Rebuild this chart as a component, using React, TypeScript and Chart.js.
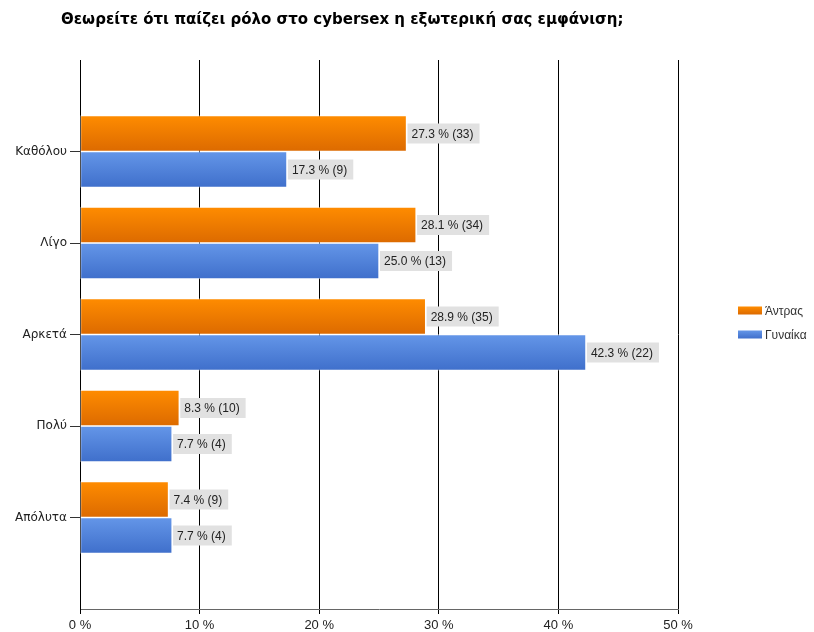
import React, { useEffect, useRef } from "react";
import { Chart, registerables } from "chart.js";

Chart.register(...registerables);

const TITLE = "Θεωρείτε ότι παίζει ρόλο στο cybersex η εξωτερική σας εμφάνιση;";
const categories = ["Καθόλου", "Λίγο", "Αρκετά", "Πολύ", "Απόλυτα"];
const seriesNames = ["Άντρας", "Γυναίκα"];
const menPct = [27.3, 28.1, 28.9, 8.3, 7.4];
const menCount = [33, 34, 35, 10, 9];
const womenPct = [17.3, 25.0, 42.3, 7.7, 7.7];
const womenCount = [9, 13, 22, 4, 4];
const xTicks = [0, 10, 20, 30, 40, 50];

const FONT = "'Liberation Sans', Arial, sans-serif";
const NARROW = "'Liberation Sans Narrow', 'Arial Narrow', 'Liberation Sans', sans-serif";
const WIDE = "'DejaVu Sans', Verdana, sans-serif";
const BAR = 36;

const gradStops = [
  ["#ff8c00", "#dc6a00"],
  ["#6496e8", "#3f6fcb"],
];
const solid = ["#f07d00", "#4f82da"];

export default function App() {
  const ref = useRef<HTMLCanvasElement | null>(null);

  useEffect(() => {
    const canvas = ref.current;
    if (!canvas) return;

    const labels = ["", ...categories, ""];
    const pad = (a: number[]) => [null, ...a, null];
    const counts = [menCount, womenCount];

    const bg = (ds: number) => (ctx: any) => {
      const chart = ctx.chart;
      const y = chart.scales && chart.scales.y;
      if (ctx.type !== "data" || !y || !chart.ctx) return solid[ds];
      const c = y.getPixelForValue(ctx.dataIndex);
      const top = ds === 0 ? c - BAR : c;
      if (!isFinite(top)) return solid[ds];
      const g = chart.ctx.createLinearGradient(0, top, 0, top + BAR);
      g.addColorStop(0, gradStops[ds][0]);
      g.addColorStop(1, gradStops[ds][1]);
      return g;
    };

    const labelPlugin = {
      id: "valueLabels",
      afterDatasetsDraw(chart: any) {
        const ctx = chart.ctx;
        ctx.save();
        ctx.font = `12px ${FONT}`;
        ctx.textBaseline = "middle";
        chart.data.datasets.forEach((ds: any, di: number) => {
          const meta = chart.getDatasetMeta(di);
          meta.data.forEach((el: any, i: number) => {
            const v = ds.data[i];
            if (v === null || v === undefined) return;
            const txt = `${v.toFixed(1)} % (${counts[di][i - 1]})`;
            const w = ctx.measureText(txt).width;
            const x0 = el.x + 1;
            const yc = el.y;
            ctx.fillStyle = "#e1e1e1";
            ctx.fillRect(x0, yc - 10, w + 10, 20);
            ctx.fillStyle = "#222";
            ctx.textAlign = "left";
            ctx.fillText(txt, x0 + 4, yc + 1);
          });
        });
        ctx.restore();
      },
    };

    const decorPlugin = {
      id: "decor",
      afterDraw(chart: any) {
        const ctx = chart.ctx;
        ctx.save();
        ctx.font = `bold 15px ${WIDE}`;
        ctx.fillStyle = "#000";
        ctx.textBaseline = "middle";
        ctx.textAlign = "left";
        ctx.fillText(TITLE, 61, 20);

        ctx.font = `12px ${FONT}`;
        const items = [310.5, 334.5];
        items.forEach((yc, i) => {
          const g = ctx.createLinearGradient(0, yc - 4, 0, yc + 4);
          g.addColorStop(0, gradStops[i][0]);
          g.addColorStop(1, gradStops[i][1]);
          ctx.fillStyle = g;
          ctx.fillRect(738, yc - 4, 24, 8);
          ctx.fillStyle = "#333";
          ctx.fillText(seriesNames[i], 765, yc + 1);
        });
        ctx.restore();
      },
    };

    const chart = new Chart(canvas, {
      type: "bar",
      data: {
        labels,
        datasets: [
          {
            label: seriesNames[0],
            data: pad(menPct) as any,
            backgroundColor: bg(0) as any,
            borderColor: "rgba(255,255,255,0.45)",
            borderWidth: 1,
            borderSkipped: false,
            barThickness: BAR,
          },
          {
            label: seriesNames[1],
            data: pad(womenPct) as any,
            backgroundColor: bg(1) as any,
            borderColor: "rgba(255,255,255,0.45)",
            borderWidth: 1,
            borderSkipped: false,
            barThickness: BAR,
          },
        ],
      },
      options: {
        indexAxis: "y",
        animation: false,
        responsive: false,
        maintainAspectRatio: false,
        layout: { padding: { top: 60, right: 136, left: 0, bottom: 0 } },
        plugins: {
          legend: { display: false },
          title: { display: false },
          tooltip: { enabled: false },
        },
        scales: {
          x: {
            type: "linear",
            min: xTicks[0],
            max: xTicks[xTicks.length - 1],
            afterBuildTicks: (s: any) => {
              s.ticks = xTicks.map((v) => ({ value: v }));
            },
            afterFit: (s: any) => {
              s.height = 23;
            },
            ticks: {
              callback: (v: any) => `${v} %`,
              font: { family: NARROW, size: 13 },
              color: "#222",
              padding: 4,
              maxRotation: 0,
            },
            grid: {
              color: "#000",
              lineWidth: 1,
              tickLength: 5,
            },
            border: { display: true, color: "#666", width: 1 },
          },
          y: {
            type: "category",
            offset: false,
            afterFit: (s: any) => {
              s.width = 80;
            },
            ticks: {
              font: { family: WIDE, size: 12 },
              color: "#222",
              padding: 3,
              autoSkip: false,
            },
            grid: {
              offset: false,
              drawOnChartArea: false,
              drawTicks: true,
              tickLength: 10,
              color: (ctx: any) =>
                ctx.index === 0 || ctx.index === labels.length - 1 ? "rgba(0,0,0,0)" : "#333",
            },
            border: { display: true, color: "#000", width: 1 },
          },
        },
      },
      plugins: [labelPlugin, decorPlugin],
    } as any);

    return () => chart.destroy();
  }, []);

  return (
    <div style={{ position: "fixed", left: 0, top: 0, width: 814, height: 632, background: "#fff" }}>
      <canvas ref={ref} width={814} height={632} style={{ display: "block", width: 814, height: 632 }} />
    </div>
  );
}
